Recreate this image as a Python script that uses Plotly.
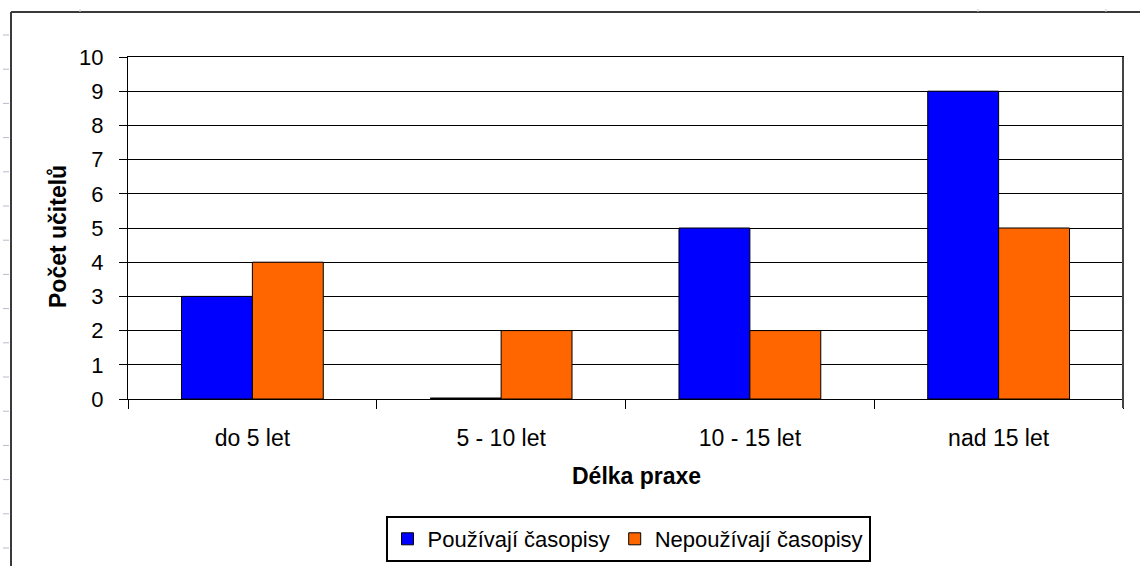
import plotly.graph_objects as go

categories = ["do 5 let", "5 - 10 let", "10 - 15 let", "nad 15 let"]
pouzivaji = [3, 0, 5, 9]
nepouzivaji = [4, 2, 2, 5]
series_names = ["Používají časopisy", "Nepoužívají časopisy"]
y_ticks = list(range(0, 11))

W, H = 1140, 566
L, R, T, B = 128, 17, 57, 167
PW, PH = W - L - R, H - T - B
BARGAP = 0.43


def px(x):
    return (x - L) / PW


def py(y):
    return (H - B - y) / PH


FONT = "Liberation Sans, Arial, sans-serif"

fig = go.Figure()
fig.add_trace(go.Bar(x=categories, y=pouzivaji, name=series_names[0],
                     marker=dict(color="#0000FF", line=dict(color="black", width=1))))
fig.add_trace(go.Bar(x=categories, y=nepouzivaji, name=series_names[1],
                     marker=dict(color="#FF6600", line=dict(color="black", width=1))))

# zero-height bars drawn as a line (as Excel does)
half = (1 - BARGAP) / 2
for i, v in enumerate(pouzivaji):
    if v == 0:
        fig.add_shape(type="line", xref="x", yref="y", x0=i - half, x1=i, y0=0, y1=0,
                      line=dict(color="black", width=3))
for i, v in enumerate(nepouzivaji):
    if v == 0:
        fig.add_shape(type="line", xref="x", yref="y", x0=i, x1=i + half, y0=0, y1=0,
                      line=dict(color="black", width=3))

shapes = []
# outer chart frame (left and top visible)
shapes.append(dict(type="line", xref="paper", yref="paper", x0=px(11), x1=px(11), y0=py(12), y1=py(600),
                   line=dict(color="#3a3a3a", width=2)))
shapes.append(dict(type="line", xref="paper", yref="paper", x0=px(11), x1=px(1200), y0=py(12), y1=py(12),
                   line=dict(color="#3a3a3a", width=2)))
# right plot-area border (slightly heavier, grey)
shapes.append(dict(type="line", xref="paper", yref="paper", x0=1, x1=1, y0=py(408), y1=1,
                   line=dict(color="#444444", width=2)))
# faint ruler ticks on the left margin
for k in range(16):
    yy = 35 + k * 34.2
    if yy > 566:
        break
    shapes.append(dict(type="line", xref="paper", yref="paper", x0=px(3), x1=px(9), y0=py(yy), y1=py(yy),
                       line=dict(color="#b8bccc", width=1)))
for xx in [80, 978, 1106]:
    shapes.append(dict(type="line", xref="paper", yref="paper", x0=px(xx), x1=px(xx), y0=py(9), y1=py(12),
                       line=dict(color="#c8ccd8", width=1)))
for s in shapes:
    fig.add_shape(**s)

fig.add_annotation(text="<b>Počet učitelů</b>", xref="paper", yref="paper", x=px(58), y=py(237),
                   textangle=-90, showarrow=False, font=dict(family=FONT, size=23, color="black"),
                   xanchor="center", yanchor="middle")
fig.add_annotation(text="<b>Délka praxe</b>", xref="paper", yref="paper", x=px(636), y=py(476),
                   showarrow=False, font=dict(family=FONT, size=23, color="black"),
                   xanchor="center", yanchor="middle")

fig.update_layout(
    width=W, height=H,
    margin=dict(l=L, r=R, t=T, b=B, pad=0, autoexpand=False),
    paper_bgcolor="white", plot_bgcolor="white",
    barmode="group", bargap=BARGAP, bargroupgap=0,
    font=dict(family=FONT, size=22, color="black"),
    showlegend=True,
    legend=dict(orientation="h", xref="container", yref="container",
                x=628 / W, xanchor="center", y=(H - 516) / H, yanchor="top",
                bordercolor="black", borderwidth=2, bgcolor="white",
                font=dict(family=FONT, size=22, color="black"),
                itemwidth=30, tracegroupgap=0, traceorder="normal"),
)
fig.update_xaxes(type="category", showline=True, linecolor="black", linewidth=1, mirror=True,
                 ticks="outside", ticklen=9, tickcolor="black", tickwidth=1, tickson="boundaries",
                 showgrid=False, tickfont=dict(family=FONT, size=23, color="black"),
                 ticklabelstandoff=18)
fig.update_yaxes(range=[0, 10], tickvals=y_ticks, showline=True, linecolor="black", linewidth=1,
                 mirror=True, ticks="outside", ticklen=8, tickcolor="black", tickwidth=1,
                 showgrid=True, gridcolor="black", gridwidth=1, zeroline=False,
                 tickfont=dict(family=FONT, size=22, color="black"), ticklabelstandoff=11)

fig.write_html("out.html", config={"displayModeBar": False},
               post_script="document.body.style.margin='0';document.body.style.overflow='hidden';")
